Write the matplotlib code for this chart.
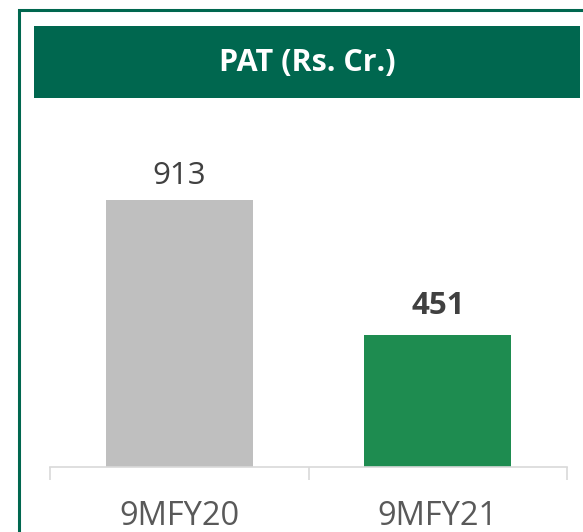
import matplotlib
matplotlib.use("Agg")
import matplotlib.pyplot as plt
from matplotlib.patches import Rectangle

# PAT for the nine-month periods
periods = ["9MFY20", "9MFY21"]
pat_values = [913, 451]
bar_colors = ["#BFBFBF", "#1E8C50"]
label_weights = ["normal", "bold"]
label_gaps = [16, 21]  # px between bar top and value baseline

plt.rcParams['font.family'] = ['Open Sans', 'DejaVu Sans']

W, H = 583, 532
fig = plt.figure(figsize=(W / 100, H / 100), dpi=100)

def fx(px):
    return px / W

def fy(py):
    return 1 - py / H

dark_green = "#00674F"

# outer frame (runs off the right and bottom edges)
fig.add_artist(Rectangle((fx(19), fy(600)), fx(700), fy(10) - fy(600),
                         transform=fig.transFigure, fill=False,
                         edgecolor=dark_green, linewidth=2.2, clip_on=False))

# title banner
fig.add_artist(Rectangle((fx(34), fy(98)), fx(580) - fx(34), fy(26) - fy(98),
                         transform=fig.transFigure, facecolor=dark_green,
                         edgecolor="none"))
fig.text(fx(307), fy(63), "PAT (Rs. Cr.)", color="white", fontsize=22,
         fontweight="bold", ha="center", va="center")

ax = fig.add_axes([fx(50), fy(467), fx(567) - fx(50), fy(110) - fy(467)])
x = range(len(periods))
bars = ax.bar(x, pat_values, width=0.57, color=bar_colors)

ax.set_xlim(-0.5, len(periods) - 0.5)
ax.set_ylim(0, 1220)

for rect, val, w, gap in zip(bars, pat_values, label_weights, label_gaps):
    ax.annotate(str(val), (rect.get_x() + rect.get_width() / 2, val),
                xytext=(0, gap * 0.72), textcoords="offset points",
                ha="center", va="baseline", fontsize=22.5, fontweight=w,
                color="#404040")

for side in ["top", "right", "left"]:
    ax.spines[side].set_visible(False)
ax.spines["bottom"].set_color("#D9D9D9")
ax.spines["bottom"].set_linewidth(1.2)
ax.set_yticks([])

ax.set_xticks(list(x))
ax.set_xticklabels(periods, fontsize=23.5, color="#595959")
ax.tick_params(axis="x", which="major", length=0, pad=24)
ax.set_xticks([-0.5, 0.5, 1.5], minor=True)
ax.tick_params(axis="x", which="minor", length=9, width=1.2, color="#D9D9D9")

fig.savefig("out.png", dpi=100)
